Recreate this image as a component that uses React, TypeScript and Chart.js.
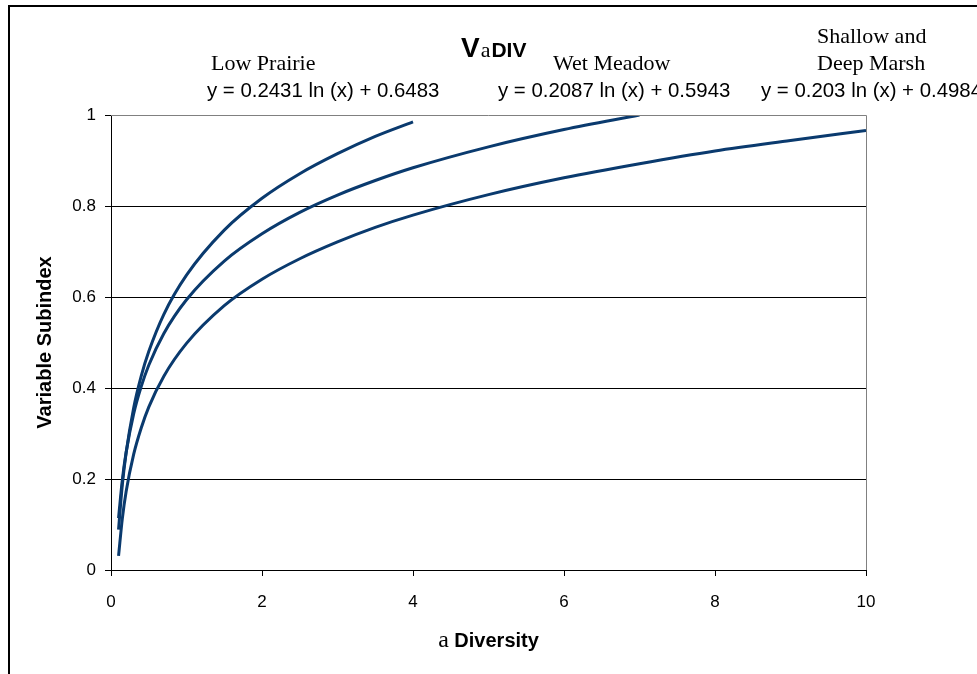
import React, { useEffect, useRef } from "react";
import { Chart, registerables } from "chart.js";

Chart.register(...registerables);

// Data
const lowPrairieX = [0.1, 0.15, 0.2, 0.3, 0.4, 0.5, 0.7, 1, 1.5, 2, 2.5, 3, 3.5, 4];
const lowPrairieY = [0.089, 0.187, 0.257, 0.356, 0.426, 0.48, 0.562, 0.648, 0.747, 0.817, 0.871, 0.915, 0.953, 0.985];

const wetMeadowX = [0.1, 0.15, 0.2, 0.3, 0.4, 0.5, 0.7, 1, 1.5, 2, 2.5, 3, 3.5, 4, 5, 6, 7];
const wetMeadowY = [0.114, 0.198, 0.258, 0.343, 0.403, 0.45, 0.52, 0.594, 0.679, 0.739, 0.786, 0.824, 0.856, 0.884, 0.93, 0.968, 1.0];

const marshX = [0.1, 0.15, 0.2, 0.3, 0.4, 0.5, 0.7, 1, 1.5, 2, 2.5, 3, 3.5, 4, 5, 6, 7, 8, 9, 10];
const marshY = [0.031, 0.113, 0.172, 0.254, 0.312, 0.358, 0.426, 0.498, 0.581, 0.639, 0.684, 0.721, 0.753, 0.78, 0.825, 0.862, 0.893, 0.921, 0.944, 0.966];

const xTickLabels = ["0", "2", "4", "6", "8", "10"];
const yTickLabels = ["0", "0.2", "0.4", "0.6", "0.8", "1"];

const seriesNames = ["Low Prairie", "Wet Meadow", "Shallow and Deep Marsh"];
const equations = ["y = 0.2431 ln (x) + 0.6483", "y = 0.2087 ln (x) + 0.5943", "y = 0.203 ln (x) + 0.4984"];

const LINE_COLOR = "#0a3a6e";
const SANS = '"Liberation Sans", Arial, sans-serif';
const SERIF = '"Liberation Serif", "Times New Roman", serif';

const toPoints = (xs: number[], ys: number[]) => xs.map((x, i) => ({ x, y: ys[i] }));

const decorPlugin = {
  id: "decor",
  afterDraw(chart: any) {
    const ctx = chart.ctx as CanvasRenderingContext2D;
    const a = chart.chartArea;
    ctx.save();
    // plot area border (top & right, gray)
    ctx.strokeStyle = "#808080";
    ctx.lineWidth = 1;
    ctx.beginPath();
    ctx.moveTo(a.left, Math.round(a.top) + 0.5);
    ctx.lineTo(Math.round(a.right) + 0.5, Math.round(a.top) + 0.5);
    ctx.lineTo(Math.round(a.right) + 0.5, a.bottom);
    ctx.stroke();

    // outer frame (left & top)
    ctx.fillStyle = "#000";
    ctx.fillRect(8, 5, 2, 669);
    ctx.fillRect(8, 5, 969, 2);

    ctx.fillStyle = "#000";
    ctx.textBaseline = "alphabetic";
    ctx.textAlign = "left";

    // Title V a DIV
    let x = 461;
    ctx.font = `bold 28px ${SANS}`;
    ctx.fillText("V", x, 57);
    x += ctx.measureText("V").width + 1;
    ctx.font = `22px ${SERIF}`;
    ctx.fillText("a", x, 57);
    x += ctx.measureText("a").width + 1;
    ctx.font = `bold 21px ${SANS}`;
    ctx.fillText("DIV", x, 57);

    // Series labels
    ctx.font = `22px ${SERIF}`;
    ctx.fillText(seriesNames[0], 211, 70);
    ctx.fillText(seriesNames[1], 553, 70);
    ctx.fillText("Shallow and", 817, 43);
    ctx.fillText("Deep Marsh", 817, 70);

    // Equations
    ctx.font = `20.4px ${SANS}`;
    ctx.fillText(equations[0], 207, 97);
    ctx.fillText(equations[1], 498, 97);
    ctx.fillText(equations[2], 761, 97);

    // Y axis title
    ctx.save();
    ctx.translate(45, (a.top + a.bottom) / 2);
    ctx.rotate(-Math.PI / 2);
    ctx.font = `bold 20px ${SANS}`;
    ctx.textAlign = "center";
    ctx.textBaseline = "middle";
    ctx.fillText("Variable Subindex", 0, 0);
    ctx.restore();

    // X axis title: a Diversity
    ctx.font = `24px ${SERIF}`;
    const wA = ctx.measureText("a").width;
    ctx.font = `bold 20px ${SANS}`;
    const wD = ctx.measureText(" Diversity").width;
    const total = wA + wD;
    let sx = (a.left + a.right) / 2 - total / 2;
    ctx.font = `24px ${SERIF}`;
    ctx.fillText("a", sx, 647);
    sx += wA;
    ctx.font = `bold 20px ${SANS}`;
    ctx.fillText(" Diversity", sx, 647);

    ctx.restore();
  },
};

export default function App() {
  const ref = useRef<HTMLCanvasElement | null>(null);

  useEffect(() => {
    if (!ref.current) return;
    const mk = (label: string, xs: number[], ys: number[]) => ({
      label,
      data: toPoints(xs, ys),
      borderColor: LINE_COLOR,
      backgroundColor: LINE_COLOR,
      borderWidth: 3,
      pointRadius: 0,
      cubicInterpolationMode: "monotone" as const,
      fill: false,
    });
    const chart = new Chart(ref.current, {
      type: "line",
      data: {
        datasets: [
          mk(seriesNames[0], lowPrairieX, lowPrairieY),
          mk(seriesNames[1], wetMeadowX, wetMeadowY),
          mk(seriesNames[2], marshX, marshY),
        ],
      },
      options: {
        animation: false,
        responsive: false,
        devicePixelRatio: 1,
        layout: { padding: { top: 115, right: 111, bottom: 0, left: 0 } },
        plugins: {
          legend: { display: false },
          tooltip: { enabled: false },
          title: { display: false },
        },
        scales: {
          x: {
            type: "linear",
            min: 0,
            max: 10,
            afterFit: (s: any) => {
              s.height = 104;
            },
            afterBuildTicks: (s: any) => {
              s.ticks = xTickLabels.map((t) => ({ value: Number(t) }));
            },
            ticks: {
              callback: (v: any) => xTickLabels.find((t) => Number(t) === Number(v)) ?? "",
              color: "#000",
              font: { family: SANS, size: 17 },
              padding: 16,
              maxRotation: 0,
            },
            grid: {
              drawOnChartArea: false,
              drawTicks: true,
              tickLength: 6,
              tickColor: "#000",
            },
            border: { color: "#000", width: 1 },
          },
          y: {
            type: "linear",
            min: 0,
            max: 1,
            afterFit: (s: any) => {
              s.width = 111;
            },
            afterBuildTicks: (s: any) => {
              s.ticks = yTickLabels.map((t) => ({ value: Number(t) }));
            },
            ticks: {
              callback: (v: any) => yTickLabels.find((t) => Number(t) === Number(v)) ?? "",
              color: "#000",
              font: { family: SANS, size: 17 },
              padding: 9,
            },
            grid: {
              drawOnChartArea: true,
              color: (c: any) => (c.tick && (c.tick.value === 1 || c.tick.value === 0) ? "rgba(0,0,0,0)" : "#000"),
              tickLength: 6,
              tickColor: "#000",
              lineWidth: 1,
            },
            border: { color: "#000", width: 1 },
          },
        },
      },
      plugins: [decorPlugin],
    });
    return () => chart.destroy();
  }, []);

  return (
    <div style={{ position: "fixed", left: 0, top: 0, width: 977, height: 674, background: "#fff" }}>
      <canvas ref={ref} width={977} height={674} style={{ display: "block" }} />
    </div>
  );
}
